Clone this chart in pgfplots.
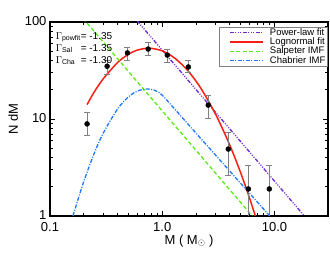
\documentclass[border=0pt]{standalone}
\usepackage{fontspec}
\setmainfont{Liberation Sans}
\usepackage{pgfplots}
\pgfplotsset{compat=1.18}
\definecolor{cpow}{RGB}{110,40,210}
\definecolor{clog}{RGB}{250,30,20}
\definecolor{csal}{RGB}{90,235,20}
\definecolor{ccha}{RGB}{30,120,250}
\pgfplotstableread{
M N ep em
0.214 8.9 2.9 2.1
0.323 35 5 6
0.49 48 7 8
0.75 52.6 8.4 7.6
1.11 45.6 7 7
1.71 34.4 5.6 4.4
2.57 13.9 3.8 3.7
3.88 4.9 2.3 2.3
5.86 1.9 1.46 1.85
9.0 1.9 1.46 1.85
}\datatab
\begin{document}
\begin{tikzpicture}
\begin{axis}[
  xmode=log, ymode=log,
  scale only axis, width=278pt, height=194pt,
  xmin=0.1, xmax=30, ymin=1, ymax=100,
  xtick={0.1,1,10}, xticklabels={0.1,1.0,10.0},
  ytick={1,10,100}, yticklabels={1,10,100},
  tick align=inside, major tick length=5pt, minor tick length=3pt,
  axis line style={line width=1.2pt},
  every tick/.style={black, line width=0.8pt},
  xlabel={M ( M$_\odot$ )}, ylabel={N dM},
  ticklabel style={font=\fontsize{13}{13}\selectfont},
  xticklabel style={yshift=-3pt},
  yticklabel style={yshift=1pt},
  label style={font=\fontsize{13}{13}\selectfont},
  xlabel style={yshift=4pt},
  /pgf/number format/assume math mode=true,
  legend style={at={(1,1)}, anchor=north east, xshift=-1pt, yshift=-5pt,
    font=\fontsize{9.5}{9.5}\selectfont, draw=gray, inner sep=1pt,
    nodes={inner sep=0.4pt}, row sep=0pt, legend cell align=left},
  legend image code/.code={\path (-9pt,0pt); \draw[#1] (0pt,0pt) -- (33pt,0pt); \path (39pt,0pt);},
]
\addplot[cpow, line width=1.3pt, dash pattern=on 4pt off 1.5pt on 1pt off 1.5pt on 1pt off 1.5pt on 1pt off 1.5pt] coordinates {(0.5,130.8) (25,0.665)};
\addlegendentry{Power-law fit}
\addplot[clog, line width=1.5pt, smooth] coordinates {
(0.214,14.1) (0.25,19.3) (0.3,26.2) (0.4,38.2) (0.5,46.5) (0.6,51.3) (0.76,53.7) (1.0,50.4) (1.3,42.2) (1.7,31.3) (2.2,20.9) (3.0,11.1) (4.0,5.38) (5.0,2.79) (6.0,1.53) (7.0,0.88)};
\addlegendentry{Lognormal fit}
\addplot[csal, line width=1.3pt, dash pattern=on 4pt off 2.5pt] coordinates {(0.18,123) (8,0.73)};
\addlegendentry{Salpeter IMF}
\addplot[ccha, line width=1.3pt, dash pattern=on 4pt off 1.5pt on 1pt off 1.5pt, smooth] coordinates {
(0.16,1.0) (0.2,2.27) (0.25,4.54) (0.3,7.24) (0.4,12.7) (0.5,16.9) (0.6,19.4) (0.73,20.4) (0.85,19.8) (1.0,17.6) (1.5,10.4) (2,7.15) (3,4.22) (5,2.17) (8,1.18) (10,0.88)};
\addlegendentry{Chabrier IMF}
\addplot[only marks, mark=*, mark size=2.5pt, black,
  error bars/.cd, y dir=both, y explicit,
  error bar style={gray, line width=0.7pt},
  error mark options={rotate=90, mark size=3pt, gray, line width=0.7pt}]
  table[x=M, y=N, y error plus=ep, y error minus=em] {\datatab};
\node[anchor=north west, inner sep=0pt, font=\fontsize{10}{12}\selectfont] at (rel axis cs:0.02,0.955)
{\begin{tabular}{@{}l@{}l@{}}
$\Gamma$\textsubscript{powfit}&= -1.35\\
$\Gamma$\textsubscript{Sal}&= -1.35\\
$\Gamma$\textsubscript{Cha}&= -1.30
\end{tabular}};
\end{axis}
\path (current axis.south west) ++(-50pt,-40pt) coordinate (bl);
\path (current axis.north east) ++(2pt,22pt) coordinate (tr);
\path (bl) rectangle (tr);
\end{tikzpicture}
\end{document}
